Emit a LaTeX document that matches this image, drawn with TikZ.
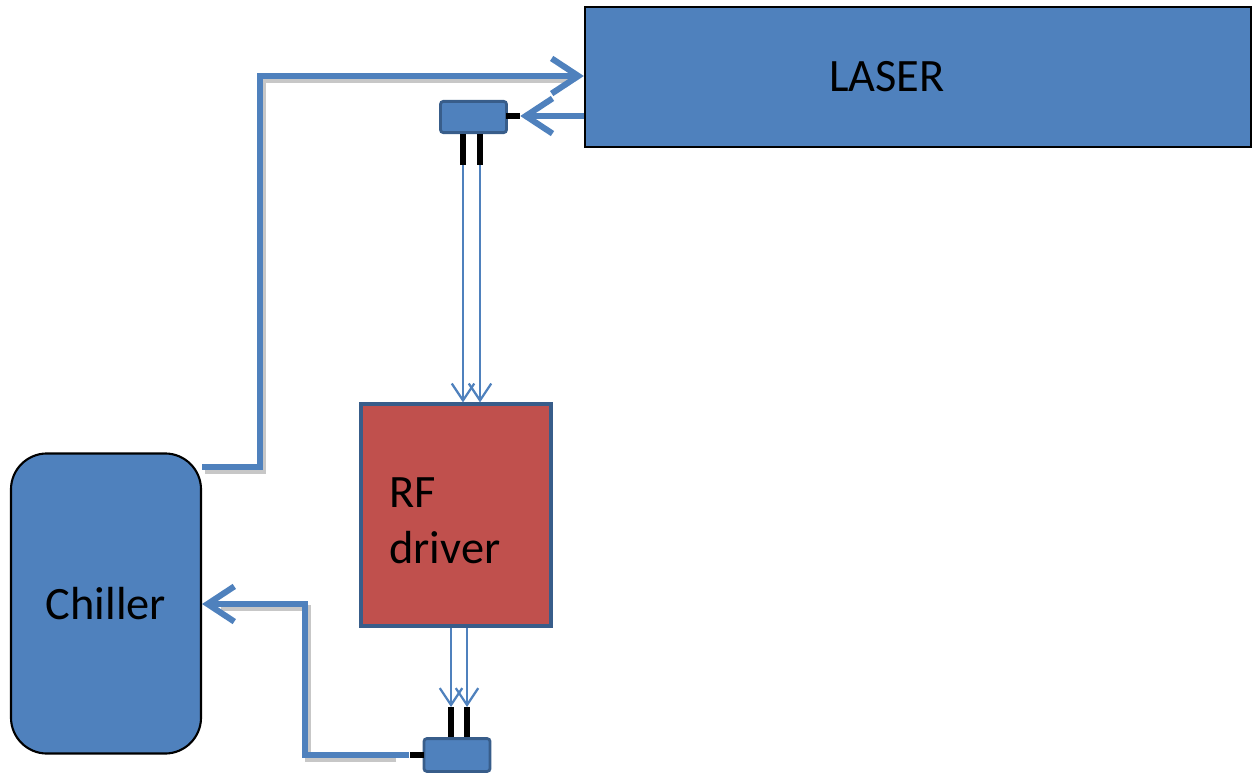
\documentclass[tikz,border=0pt]{standalone}
\usepackage{fontspec}
\setmainfont{Carlito}
\usetikzlibrary{arrows.meta,positioning}
\definecolor{boxblue}{HTML}{4F81BD}
\definecolor{edgeblue}{HTML}{385D8A}
\definecolor{rfred}{HTML}{C0504D}
\tikzset{
      unitbox/.style={
        draw=black,
        line width=1.5pt,
        fill=boxblue,
        inner sep=0pt
      },
      labeltext/.style={
        font=\fontsize{33}{40}\selectfont,
        inner sep=0pt
      },
      sensbox/.style={
        draw=edgeblue,
        line width=2pt,
        fill=boxblue,
        rounded corners=2pt,
        minimum width=1.65cm,
        inner sep=0pt
      },
      stubbox/.style={
        fill=black,
        minimum width=0.35cm,
        minimum height=0.16cm,
        inner sep=0pt
      },
      pipe/.style={
        draw=boxblue,
        line width=4.3pt,
        -{Straight Barb[length=19pt,width=25pt]}
      },
      pipeshade/.style={
        draw=black!22,
        line width=4.3pt,
        transform canvas={shift={(2.2pt,-2.6pt)}}
      },
      sigline/.style={
        draw=boxblue,
        line width=1.6pt,
        -{Straight Barb[length=12pt,width=16pt]}
      },
      pinline/.style={
        draw=black,
        line width=3.8pt
      }
    }
\begin{document}
\begin{tikzpicture}[x=0.025cm,y=-0.025cm]
    \useasboundingbox (0,0) rectangle (1255,774);
    % main units
    \node[unitbox, minimum width=16.65cm, minimum height=3.5cm] (laser) at (918,77) {};
    \node[labeltext] (laserlabel) at (887,77) {LASER};
    \node[unitbox, draw=edgeblue, line width=2.2pt, fill=rfred, minimum width=4.75cm, minimum height=5.55cm] (rfdrv) at (456,515) {};
    \node[labeltext, align=left, anchor=west] (rflabel) at (389,521) {RF\\driver};
    \node[unitbox, rounded corners=0.9cm, minimum width=4.75cm, minimum height=7.5cm, labeltext] (chiller) at (106,603.5) {Chiller};
    % sensors
    \node[sensbox, minimum height=0.78cm] (senstop) at (473.5,117) {};
    \node[sensbox, minimum height=0.82cm] (sensbot) at (457,755) {};
    \node[stubbox] (stubtop) at (513,116) {};
    \node[stubbox] (stubbot) at (416.5,755) {};
    % pins
    \coordinate (pint1) at (463,165);
    \coordinate (pint2) at (480,165);
    \coordinate (pinb1) at (451,707);
    \coordinate (pinb2) at (467,707);
    \draw[pinline] (pint1) -- (pint1 |- senstop.south);
    \draw[pinline] (pint2) -- (pint2 |- senstop.south);
    \draw[pinline] (pinb1) -- (pinb1 |- sensbot.north);
    \draw[pinline] (pinb2) -- (pinb2 |- sensbot.north);
    % thin signal lines
    \draw[sigline] (pint1) -- (pint1 |- rfdrv.north);
    \draw[sigline] (pint2) -- (pint2 |- rfdrv.north);
    \draw[sigline] (pinb1 |- rfdrv.south) -- (pinb1);
    \draw[sigline] (pinb2 |- rfdrv.south) -- (pinb2);
    % cooling loop
    \coordinate (bendup) at (260,467);
    \coordinate (bendlow) at (305,604);
    \draw[pipeshade] (chiller.east |- bendup) -- (bendup) -- (bendup |- 0,76) -- ([xshift=-0.4cm]laser.west |- 0,76);
    \draw[pipeshade] ([xshift=-0.4cm]stubbot.west) -| (bendlow) -- ([xshift=0.4cm]chiller.east |- bendlow);
    \draw[pipe] (chiller.east |- bendup) -- (bendup) |- (laser.west |- 0,76);
    \draw[pipe] (laser.west |- stubtop) -- (stubtop.east);
    \draw[pipe] (stubbot.west) -| (bendlow) -- (chiller.east |- bendlow);
\end{tikzpicture}
\end{document}
